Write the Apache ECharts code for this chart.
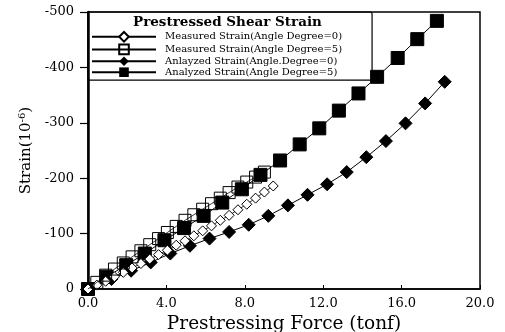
<!DOCTYPE html>
<html>
<head>
<meta charset="utf-8">
<script src="https://cdn.jsdelivr.net/npm/echarts@6/dist/echarts.min.js"></script>
<style>
  html, body { margin: 0; padding: 0; background: #fff; }
  #chart { width: 505px; height: 332px; }
</style>
</head>
<body>
<div id="chart"></div>
<script>
// series names, as in the legend
var seriesNames = [
    'Measured Strain(Angle Degree=0)',
    'Measured Strain(Angle Degree=5)',
    'Anlayzed Strain(Angle.Degree=0)',
    'Analyzed Strain(Angle Degree=5)'
];

// measured, angle 0 (open diamonds)
var measForce0 = [0, 0.45, 0.9, 1.35, 1.8, 2.25, 2.7, 3.15, 3.6, 4.05, 4.5, 4.95, 5.4, 5.85, 6.3, 6.75, 7.2, 7.65, 8.1, 8.55, 9.0, 9.45];
var measStrain0 = [0, -7, -14, -22, -30, -38, -46, -54, -62, -70, -79, -87, -96, -105, -114, -124, -133, -143, -153, -164, -175, -186];

// measured, angle 5 (open squares)
var measForce5 = [0, 0.45, 0.9, 1.35, 1.8, 2.25, 2.7, 3.15, 3.6, 4.05, 4.5, 4.95, 5.4, 5.85, 6.3, 6.75, 7.2, 7.65, 8.1, 8.55, 9.0];
var measStrain5 = [0, -12, -25, -36, -47, -58, -69, -80, -91, -102, -113, -124, -134, -144, -154, -164, -174, -184, -193, -202, -211];

// analyzed, angle 0 (filled diamonds)
var anaForce0 = [0, 1.2, 2.2, 3.2, 4.2, 5.2, 6.2, 7.2, 8.2, 9.2, 10.2, 11.2, 12.2, 13.2, 14.2, 15.2, 16.2, 17.2, 18.2];
var anaStrain0 = [0, -18, -33, -48, -64, -78, -91, -103, -116, -132, -151, -170, -189, -211, -238, -267, -299, -335, -374];

// analyzed, angle 5 (filled squares)
var anaForce5 = [0, 0.95, 1.95, 2.9, 3.9, 4.9, 5.9, 6.85, 7.85, 8.8, 9.8, 10.8, 11.8, 12.8, 13.8, 14.75, 15.8, 16.8, 17.8];
var anaStrain5 = [0, -22, -43, -64, -88, -110, -132, -156, -180, -206, -232, -261, -290, -322, -353, -383, -417, -451, -484];

function pairs(xs, ys) {
    return xs.map(function (x, i) { return [x, ys[i]]; });
}

var serif = '"DejaVu Serif", "Liberation Serif", serif';

var myChart = echarts.init(document.getElementById('chart'));
var option = {
    backgroundColor: '#fff',
    animation: false,
    title: {
        text: 'Prestressed Shear Strain',
        left: 133,
        top: 15,
        padding: 0,
        textStyle: { fontFamily: serif, fontSize: 13.5, fontWeight: 'bold', color: '#000' }
    },
    legend: {
        orient: 'vertical',
        left: 88,
        top: 12,
        padding: [19, 30, 3, 3],
        borderColor: '#000',
        borderWidth: 1.2,
        borderRadius: 2,
        itemGap: 1,
        itemWidth: 64,
        itemHeight: 12,
        data: seriesNames,
        textStyle: { fontFamily: serif, fontSize: 10, color: '#000', padding: [0, 0, 0, 4] }
    },
    grid: {
        left: 88,
        right: 25,
        top: 12,
        bottom: 43,
        outerBoundsMode: 'none',
        show: true,
        borderColor: '#000',
        borderWidth: 1.5
    },
    xAxis: {
        type: 'value',
        min: 0,
        max: 20,
        interval: 4,
        name: 'Prestressing Force (tonf)',
        nameLocation: 'middle',
        nameGap: 21,
        nameTextStyle: { fontFamily: serif, fontSize: 18.5, color: '#000' },
        axisLine: { lineStyle: { color: '#000', width: 1.5 } },
        axisTick: { inside: true, length: 4, lineStyle: { color: '#000' } },
        axisLabel: {
            fontFamily: serif, fontSize: 13, color: '#000', margin: 8,
            formatter: function (v) { return v.toFixed(1); }
        },
        splitLine: { show: false }
    },
    yAxis: {
        type: 'value',
        min: -500,
        max: 0,
        interval: 100,
        inverse: true,
        name: 'Strain(10{sup|-6})',
        nameLocation: 'middle',
        nameGap: 52,
        nameRotate: 90,
        nameTextStyle: {
            fontFamily: serif, fontSize: 15, color: '#000',
            rich: { sup: { fontFamily: serif, fontSize: 10, color: '#000', verticalAlign: 'top', padding: [0, 0, 8, 0] } }
        },
        axisLine: { lineStyle: { color: '#000', width: 2.5 } },
        axisTick: { length: 8, lineStyle: { color: '#000', width: 1.2 } },
        axisLabel: { fontFamily: serif, fontSize: 13, color: '#000', margin: 14 },
        splitLine: { show: false }
    },
    series: [
        {
            name: seriesNames[0],
            type: 'line',
            data: pairs(measForce0, measStrain0),
            symbol: 'diamond',
            symbolSize: 10,
            itemStyle: { color: '#fff', borderColor: '#000', borderWidth: 1 },
            lineStyle: { color: '#000', width: 0.8 },
            z: 3
        },
        {
            name: seriesNames[1],
            type: 'line',
            data: pairs(measForce5, measStrain5),
            symbol: 'rect',
            symbolSize: 12,
            itemStyle: { color: 'rgba(255,255,255,0)', borderColor: '#000', borderWidth: 1 },
            lineStyle: { color: '#000', width: 0.8 },
            z: 4
        },
        {
            name: seriesNames[2],
            type: 'line',
            data: pairs(anaForce0, anaStrain0),
            symbol: 'diamond',
            symbolSize: 13,
            itemStyle: { color: '#000', borderColor: '#000' },
            lineStyle: { color: '#000', width: 1 },
            z: 2
        },
        {
            name: seriesNames[3],
            type: 'line',
            data: pairs(anaForce5, anaStrain5),
            symbol: 'rect',
            symbolSize: 13,
            itemStyle: { color: '#000', borderColor: '#000' },
            lineStyle: { color: '#000', width: 1 },
            z: 2
        }
    ]
};
myChart.setOption(option);
</script>
</body>
</html>
